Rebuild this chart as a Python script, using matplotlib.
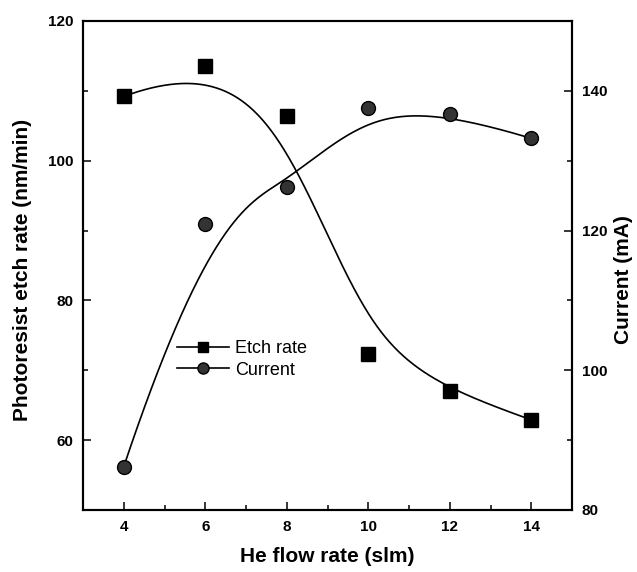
import numpy as np
import matplotlib
matplotlib.use('Agg')
import matplotlib.pyplot as plt
from matplotlib.lines import Line2D
from matplotlib.ticker import MultipleLocator

plt.rcParams['font.family'] = ['Liberation Sans', 'DejaVu Sans']

# data
he_flow = [4, 6, 8, 10, 12, 14]
etch_rate = [109.2, 113.5, 106.4, 72.3, 67.1, 62.9]      # nm/min, left axis
current = [86.2, 121.0, 126.3, 137.6, 136.7, 133.2]       # mA, right axis


def bspline(px, py, k=3, n=300):
    # clamped cubic B-spline using the data points as control points
    px = np.asarray(px, float)
    py = np.asarray(py, float)
    m = len(px)
    knots = np.concatenate([np.zeros(k), np.linspace(0, 1, m - k + 1), np.ones(k)])
    t = np.linspace(0, 1, n, endpoint=False)

    def N(i, d):
        if d == 0:
            return ((knots[i] <= t) & (t < knots[i + 1])).astype(float)
        out = np.zeros_like(t)
        den1 = knots[i + d] - knots[i]
        den2 = knots[i + d + 1] - knots[i + 1]
        if den1 > 0:
            out += (t - knots[i]) / den1 * N(i, d - 1)
        if den2 > 0:
            out += (knots[i + d + 1] - t) / den2 * N(i + 1, d - 1)
        return out

    B = np.array([N(i, k) for i in range(m)])
    xs = np.append(B.T @ px, px[-1])
    ys = np.append(B.T @ py, py[-1])
    return xs, ys


fig = plt.figure(figsize=(6.37, 5.72), dpi=100)
ax = fig.add_axes([0.1303, 0.1084, 0.7677, 0.8549])
ax2 = ax.twinx()

ex, ey = bspline(he_flow, etch_rate)
cx, cy = bspline(he_flow, current)

ax.plot(ex, ey, color='black', lw=1.2)
ax.plot(he_flow, etch_rate, 's', color='black', ms=10, mec='black')
ax2.plot(cx, cy, color='black', lw=1.2)
ax2.plot(he_flow, current, 'o', color='#333333', ms=10, mec='black', mew=1)

ax.set_xlim(3, 15)
ax.set_ylim(50, 120)
ax2.set_ylim(80, 150)

ax.xaxis.set_major_locator(MultipleLocator(2))
ax.xaxis.set_minor_locator(MultipleLocator(1))
ax.yaxis.set_major_locator(MultipleLocator(20))
ax.yaxis.set_minor_locator(MultipleLocator(10))
ax.set_yticks([60, 80, 100, 120])
ax2.yaxis.set_major_locator(MultipleLocator(20))
ax2.yaxis.set_minor_locator(MultipleLocator(10))
ax2.set_yticks([80, 100, 120, 140])

for a in (ax, ax2):
    a.tick_params(which='major', direction='in', length=6, width=1.1,
                  labelsize=11, pad=7)
    a.tick_params(which='minor', direction='in', length=3.5, width=1.1)
    for sp in a.spines.values():
        sp.set_linewidth(1.5)
    for lbl in a.get_xticklabels() + a.get_yticklabels():
        lbl.set_fontweight('bold')
ax.tick_params(which='both', top=False, right=False)
ax2.tick_params(which='both', top=False, left=False)

ax.set_xlabel('He flow rate (slm)', fontsize=15, fontweight='bold')
ax.set_ylabel('Photoresist etch rate (nm/min)', fontsize=15, fontweight='bold')
ax2.set_ylabel('Current (mA)', fontsize=15, fontweight='bold')
ax.xaxis.set_label_coords(0.5, -0.075)
ax.yaxis.set_label_coords(-0.104, 0.49)
ax2.yaxis.set_label_coords(1.086, 0.472)

handles = [
    Line2D([], [], color='black', lw=1.2, marker='s', ms=7, mfc='black', mec='black'),
    Line2D([], [], color='black', lw=1.2, marker='o', ms=8, mfc='#333333', mec='black'),
]
ax2.legend(handles, ['Etch rate', 'Current'], loc='upper left',
           bbox_to_anchor=(177 / 637, 1 - 340 / 572), bbox_transform=fig.transFigure,
           frameon=False, fontsize=13, handlelength=2.9, handletextpad=0.3,
           labelspacing=0.25, borderpad=0, borderaxespad=0)

fig.savefig('out.png', dpi=100)
